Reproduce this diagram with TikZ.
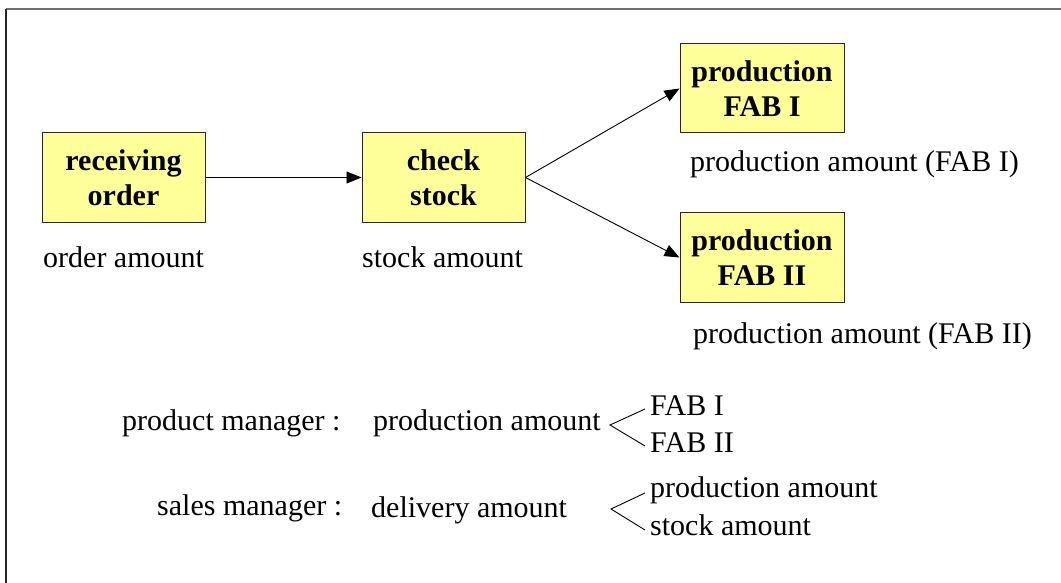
\documentclass[tikz,border=0pt]{standalone}
\usepackage{fontspec}
\setmainfont{Liberation Serif}
\usetikzlibrary{arrows.meta}
\definecolor{boxfill}{HTML}{FFFF99}
\definecolor{framegray}{HTML}{707070}
\tikzset{
  stepbox/.style={draw=black!85, line width=1pt, fill=boxfill, inner sep=0pt,
    align=center, font=\fontsize{30}{35}\selectfont\bfseries},
  lbl/.style={anchor=base west, inner sep=0pt, font=\fontsize{30}{35}\selectfont},
  flow/.style={line width=0.9pt, -{Triangle[length=15pt,width=12pt]}},
  brace/.style={line width=0.9pt}
}
\begin{document}
\begin{tikzpicture}[x=1pt,y=-1pt]
\useasboundingbox (0,0) rectangle (1061,583);
% frame
\draw[framegray, line width=2pt] (6,9) -- (1070,9);
\draw[black!85, line width=2pt] (6,9) -- (6,590);

% process boxes
\node[stepbox, minimum width=163pt, minimum height=89pt] (recv) at (123.5,177.5) {receiving\\order};
\node[stepbox, minimum width=163pt, minimum height=89pt] (check) at (443.5,177.5) {check\\stock};
\node[stepbox, minimum width=164pt, minimum height=89pt] (fab1) at (762,88.5) {production\\FAB I};
\node[stepbox, minimum width=164pt, minimum height=89pt] (fab2) at (762,257.5) {production\\FAB II};

% flows
\draw[flow] (recv.east) -- (check.west);
\draw[flow] (check.east) -- (fab1.west);
\draw[flow] (check.east) -- (fab2.west);

% quantities
\node[lbl] (qorder) at (43,267) {order amount};
\node[lbl] (qstock) at (362,267) {stock amount};
\node[lbl] (qfab1) at (690,172) {production amount (FAB I)};
\node[lbl] (qfab2) at (693,343) {production amount (FAB II)};

% responsibilities
\node[lbl] (pm) at (122,430) {product manager :};
\node[lbl] (pmval) at (373,430) {production amount};
\node[lbl] (pma) at (650,415) {FAB I};
\node[lbl] (pmb) at (650,452) {FAB II};
\node[lbl] (sm) at (157,515) {sales manager :};
\node[lbl] (smval) at (371,517) {delivery amount};
\node[lbl] (sma) at (650,497) {production amount};
\node[lbl] (smb) at (650,535) {stock amount};

% branching marks
\coordinate (pmv) at (610,425);
\coordinate (pmt) at (645,409);
\coordinate (pmu) at (645,446);
\draw[brace] (pmt) -- (pmv) -- (pmu);
\coordinate (smv) at (611,509);
\coordinate (smt) at (645,493);
\coordinate (smu) at (645,530);
\draw[brace] (smt) -- (smv) -- (smu);
\end{tikzpicture}
\end{document}
